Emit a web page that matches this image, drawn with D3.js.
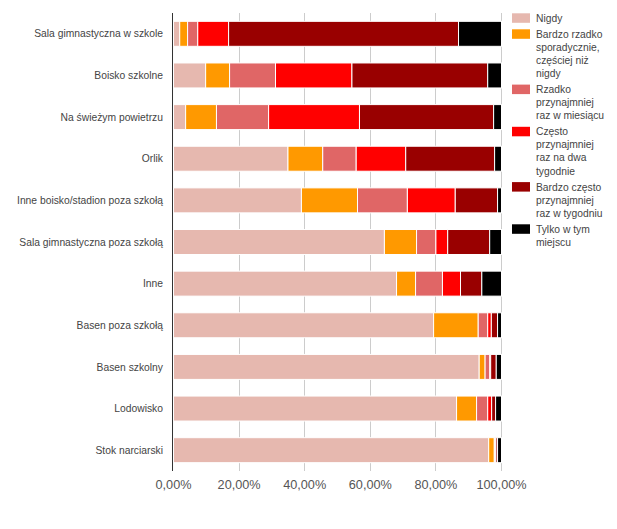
<!DOCTYPE html>
<html><head><meta charset="utf-8">
<script src="https://cdn.jsdelivr.net/npm/d3@7"></script>
<style>body{margin:0;background:#fff;}svg{display:block;font-family:Arial,"Liberation Sans",sans-serif;}</style>
</head><body>
<svg id="c" width="617" height="529"></svg>
<script>
const categories = ["Sala gimnastyczna w szkole","Boisko szkolne","Na świeżym powietrzu","Orlik","Inne boisko/stadion poza szkołą","Sala gimnastyczna poza szkołą","Inne","Basen poza szkołą","Basen szkolny","Lodowisko","Stok narciarski"];
const seriesNames = ["Nigdy","Bardzo rzadko sporadycznie, częściej niż nigdy","Rzadko przynajmniej raz w miesiącu","Często przynajmniej raz na dwa tygodnie","Bardzo często przynajmniej raz w tygodniu","Tylko w tym miejscu"];
const nigdy        = [1.9, 9.8, 3.7, 34.9, 39.0, 64.3, 68.0, 79.3, 93.2, 86.3, 96.1];
const bardzoRzadko = [2.4, 7.3, 9.4, 10.6, 17.1, 9.8, 5.8, 13.6, 1.8, 6.1, 1.7];
const rzadko       = [3.1, 14.0, 15.9, 10.2, 15.2, 5.9, 8.2, 2.9, 1.4, 3.4, 0.2];
const czesto       = [9.4, 23.3, 27.7, 15.1, 14.6, 3.6, 5.5, 1.1, 0.3, 1.2, 0.3];
const bardzoCzesto = [70.1, 41.4, 40.9, 27.1, 12.9, 12.8, 6.5, 1.9, 1.7, 1.2, 0.5];
const tylko        = [13.1, 4.2, 2.4, 2.1, 1.2, 3.6, 6.0, 1.2, 1.6, 1.8, 1.2];
const tickValues = [0, 20, 40, 60, 80, 100];
const tickLabels = ["0,00%","20,00%","40,00%","60,00%","80,00%","100,00%"];
const colors = ["#e6b8af","#ff9900","#e06666","#ff0000","#990000","#000000"];

const seriesValues = [nigdy, bardzoRzadko, rzadko, czesto, bardzoCzesto, tylko];
const keys = seriesNames.map((d,i)=>"s"+i);
const table = categories.map((c,ci)=>{
  const row = {cat:c};
  const tot = d3.sum(seriesValues, s=>s[ci]);
  seriesValues.forEach((s,si)=>{ row["s"+si] = s[ci]/tot*100; });
  return row;
});
const stacked = d3.stack().keys(keys)(table);

const svg = d3.select("#c");
const plotTop = 13, plotBottom = 471;
const x = d3.scaleLinear().domain([0,100]).range([173.5, 501.5]);
const y = d3.scaleBand().domain(categories).range([plotTop, plotBottom]).paddingInner(0.4).paddingOuter(0.2);

// gridlines
svg.append("g").selectAll("line").data(tickValues.filter(v=>v>0)).join("line")
  .attr("x1", v=>Math.floor(x(v))+0.5).attr("x2", v=>Math.floor(x(v))+0.5)
  .attr("y1", plotTop).attr("y2", plotBottom).attr("stroke","#cccccc").attr("stroke-width",1);

// bars
svg.append("g").selectAll("g").data(stacked).join("g")
  .attr("fill",(d,i)=>colors[i])
  .selectAll("rect").data(d=>d).join("rect")
  .attr("x", d=>x(d[0])).attr("width", d=>Math.max(0, x(d[1])-x(d[0])))
  .attr("y", d=>y(d.data.cat)).attr("height", y.bandwidth())
  .attr("stroke","#ffffff").attr("stroke-width",1);

// baseline axis
svg.append("line").attr("x1",172.5).attr("x2",172.5).attr("y1",plotTop).attr("y2",plotBottom)
  .attr("stroke","#333333").attr("stroke-width",1);

// category labels
svg.append("g").selectAll("text").data(categories).join("text")
  .attr("x", 163).attr("y", d=>y(d)+y.bandwidth()/2).attr("dy","0.35em")
  .attr("text-anchor","end").attr("font-size","10.3px").attr("fill","#444444").text(d=>d);

// x tick labels
svg.append("g").selectAll("text").data(tickValues).join("text")
  .attr("x", v=>x(v)).attr("y", 489).attr("text-anchor","middle")
  .attr("font-size","12.7px").attr("fill","#555555").text((v,i)=>tickLabels[i]);

// legend
const lg = svg.append("g");
const lineH = 13.1, maxW = 72;
let yy = 13.3;
seriesNames.forEach((name,i)=>{
  lg.append("rect").attr("x",512).attr("y",yy).attr("width",18).attr("height",9.5).attr("fill",colors[i]);
  const t = lg.append("text").attr("font-size","10.3px").attr("fill","#444444");
  const words = name.split(" ");
  let lines = [], cur = "";
  const probe = lg.append("text").attr("font-size","10.3px");
  words.forEach(w=>{
    const test = cur ? cur+" "+w : w;
    probe.text(test);
    if (probe.node().getComputedTextLength() > maxW && cur) { lines.push(cur); cur = w; }
    else cur = test;
  });
  lines.push(cur);
  probe.remove();
  lines.forEach((l,li)=>{
    t.append("tspan").attr("x",536).attr("y", yy + 4.75 + 3.7 + li*lineH).text(l);
  });
  yy += 16 + (lines.length-1)*lineH;
});
</script>
</body></html>
